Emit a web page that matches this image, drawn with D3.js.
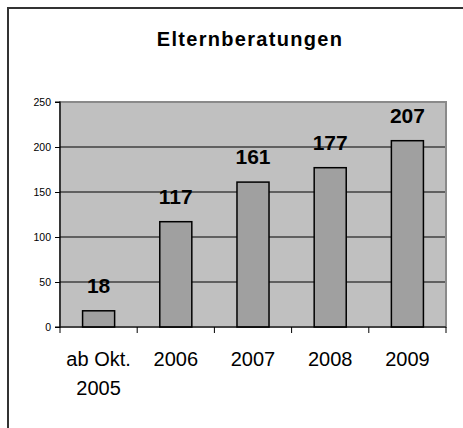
<!DOCTYPE html>
<html lang="de">
<head>
  <meta charset="UTF-8" />
  <title>Elternberatungen</title>
  <script src="https://cdn.jsdelivr.net/npm/d3@7"></script>
  <style>
    body { margin: 0; background: #fff; }
    svg { display: block; font-family: "Liberation Sans", Arial, sans-serif; }
  </style>
</head>
<body>
  <div id="chart"></div>

  <script>
    // data
    let categories = ["ab Okt.\n2005", "2006", "2007", "2008", "2009"];
    let values = [18, 117, 161, 177, 207];
    let yTicks = [0, 50, 100, 150, 200, 250];
    let title = "Elternberatungen";

    let W = 463, H = 428;
    let plot = {left: 60, right: 446, top: 102, bottom: 327};

    let svg = d3.select("#chart")
      .append("svg")
        .attr("width", W)
        .attr("height", H);

    // outer frame (only left and top visible in the crop)
    svg.append("path")
      .attr("d", "M8," + H + " L8,8 L" + W + ",8")
      .attr("fill", "none")
      .attr("stroke", "#333")
      .attr("stroke-width", 2);

    svg.append("text")
      .attr("x", 250)
      .attr("y", 46)
      .attr("text-anchor", "middle")
      .style("font-size", "20px")
      .style("font-weight", "bold")
      .style("letter-spacing", "1.3px")
      .text(title);

    let x = d3.scaleBand()
      .domain(categories)
      .range([plot.left, plot.right])
      .paddingInner(0.585)
      .paddingOuter(0.2925);

    let y = d3.scaleLinear()
      .domain([0, 250])
      .range([plot.bottom, plot.top]);

    // plot area
    svg.append("rect")
      .attr("x", plot.left)
      .attr("y", plot.top)
      .attr("width", plot.right - plot.left)
      .attr("height", plot.bottom - plot.top)
      .attr("fill", "#c0c0c0")
      .attr("stroke", "#8a8a8a")
      .attr("stroke-width", 2);

    // gridlines
    svg.selectAll("grid")
      .data(yTicks.filter(function(t) { return t > 0 && t < 250; }))
      .enter()
      .append("line")
        .attr("x1", plot.left)
        .attr("x2", plot.right - 1)
        .attr("y1", function(t) { return y(t); })
        .attr("y2", function(t) { return y(t); })
        .attr("stroke", "#000")
        .attr("stroke-width", 1);

    // bars
    svg.selectAll("bar")
      .data(values)
      .enter()
      .append("rect")
        .attr("x", function(d, i) { return x(categories[i]); })
        .attr("y", function(d) { return y(d); })
        .attr("width", x.bandwidth())
        .attr("height", function(d) { return y(0) - y(d); })
        .attr("fill", "#a0a0a0")
        .attr("stroke", "#000")
        .attr("stroke-width", 1.5);

    // value labels
    svg.selectAll("valueLabel")
      .data(values)
      .enter()
      .append("text")
        .attr("x", function(d, i) { return x(categories[i]) + x.bandwidth() / 2; })
        .attr("y", function(d) { return y(d) - 18; })
        .attr("text-anchor", "middle")
        .style("font-size", "21px")
        .style("font-weight", "bold")
        .text(function(d) { return d; });

    // y axis
    let yAxis = svg.append("g")
      .attr("transform", "translate(" + plot.left + ",0)")
      .call(d3.axisLeft(y).tickValues(yTicks).tickSize(5).tickPadding(4));
    yAxis.select(".domain").attr("stroke", "#000").attr("stroke-width", 1.2)
      .attr("d", "M-5," + y(250) + "H0V" + y(0) + "H-5");
    yAxis.selectAll("text")
      .style("font-size", "10.5px")
      .style("font-family", "'Liberation Sans', Arial, sans-serif")
      .attr("fill", "#000");

    // x axis: baseline and ticks on band boundaries
    svg.append("line")
      .attr("x1", plot.left)
      .attr("x2", plot.right)
      .attr("y1", y(0))
      .attr("y2", y(0))
      .attr("stroke", "#000")
      .attr("stroke-width", 1.2);

    let step = x.step();
    let bounds = d3.range(categories.length + 1).map(function(i) {
      return plot.left + (x.range()[1] - x.range()[0] - step * categories.length) / 2 + i * step;
    });
    svg.selectAll("xTick")
      .data(bounds)
      .enter()
      .append("line")
        .attr("x1", function(b) { return b; })
        .attr("x2", function(b) { return b; })
        .attr("y1", y(0))
        .attr("y2", y(0) + 6)
        .attr("stroke", "#000")
        .attr("stroke-width", 1);

    // category labels
    let catLabels = svg.selectAll("catLabel")
      .data(categories)
      .enter()
      .append("text")
        .attr("x", function(c) { return x(c) + x.bandwidth() / 2; })
        .attr("y", 366)
        .attr("text-anchor", "middle")
        .style("font-size", "20px");
    catLabels.each(function(c) {
      let parts = c.split("\n");
      let t = d3.select(this);
      parts.forEach(function(p, i) {
        t.append("tspan")
          .attr("x", t.attr("x"))
          .attr("dy", i === 0 ? 0 : 28.5)
          .text(p);
      });
    });
  </script>
</body>
</html>
